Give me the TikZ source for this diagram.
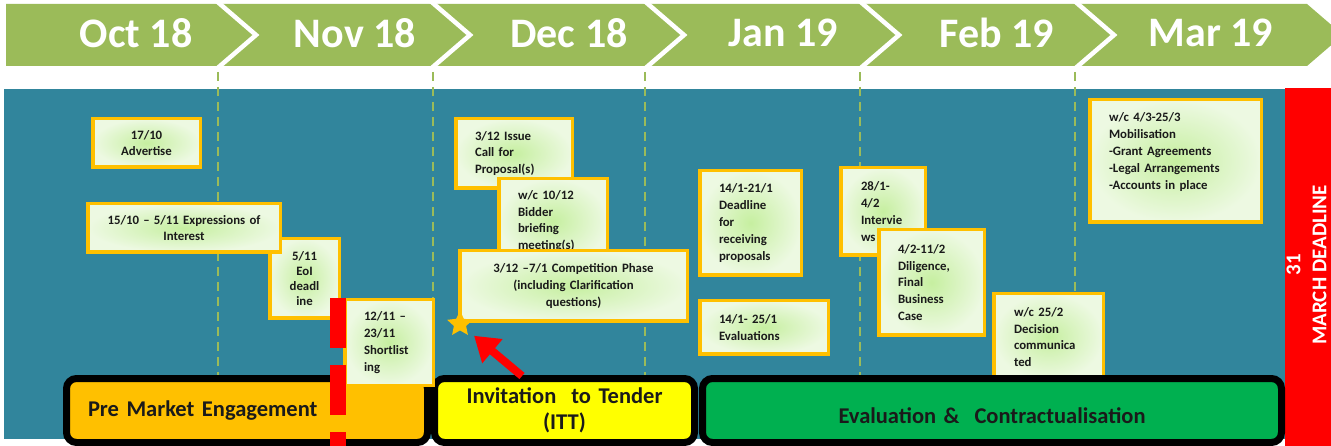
\documentclass[tikz,border=0pt]{standalone}
\usepackage{fontspec}
\setmainfont{Carlito}
\usetikzlibrary{shapes.geometric,arrows.meta}
\definecolor{headgreen}{HTML}{9BBB59}
\definecolor{boardteal}{HTML}{31859C}
\definecolor{taskedge}{HTML}{FFC000}
\definecolor{taskin}{RGB}{198,239,160}
\definecolor{taskout}{RGB}{237,249,226}
\definecolor{inkblack}{HTML}{1A1A1A}
\definecolor{preorange}{HTML}{FFC000}
\definecolor{ittyellow}{HTML}{FFFF00}
\definecolor{evalgreen}{HTML}{00B050}
\definecolor{deadred}{HTML}{FF0000}
\newcommand{\monthfont}{\bfseries\fontsize{42}{48}\selectfont}
\newcommand{\taskfont}{\bfseries\fontsize{12.8}{16.8}\selectfont}
\newcommand{\phasefont}{\bfseries\fontsize{22.5}{26}\selectfont}
\tikzset{
  month/.style = {white, font=\monthfont, inner sep=0pt},
  gridline/.style = {draw=headgreen, line width=1.5pt, dash pattern=on 9pt off 6pt},
  task/.style = {draw=taskedge, line width=3.5pt, inner color=taskin, outer color=taskout, text=inkblack, font=\taskfont, inner sep=2pt, align=#1},
  task/.default = left,
  phase/.style = {draw=black, line width=7pt, rounded corners=10pt, fill=#1, text=inkblack, font=\phasefont, minimum height=64pt, inner sep=2pt},
  cutoff/.style = {draw=deadred, line width=16pt, dash pattern=on 50pt off 17pt},
  pointer/.style = {draw=deadred, fill=deadred, line width=8pt, -{Triangle[length=24pt,width=30pt]}, shorten >=9pt},
  deadtext/.style = {white, font=\bfseries\fontsize{21}{26}\selectfont, rotate=90, align=center, inner sep=0pt}
}

\begin{document}
\begin{tikzpicture}[x=1pt,y=-1pt]
  \useasboundingbox (0,0) rectangle (1331,446);
  % months
  \fill[headgreen] (6,4) -- (1307,4) -- (1343,35) -- (1307,66) -- (6,66) -- cycle;
  \foreach \xs in {217,431,645,860,1075}{
    \draw[white, line width=4.5pt] (\xs-4,-2) -- (\xs+39,35) -- (\xs-4,72);
  }
  \foreach \m/\xi [count=\i] in {Oct 18/136,Nov 18/355,Dec 18/569,Jan 19/783,Feb 19/997,Mar 19/1211}{
    \node[month] (month\i) at (\xi,33) {\m};
  }
  % board
  \fill[boardteal] (4,89) rectangle (1285,439);
  \fill[deadred] (1285,88) rectangle (1331,446);
  \node[deadtext] (deadline) at (1306.5,265) {31\\MARCH DEADLINE};
  \foreach \xs in {218,433,645,860,1075}{
    \draw[gridline] (\xs,72) -- (\xs,380);
  }
  % phases
  \node[phase=preorange, minimum width=361pt, text width=318pt, align=left] (premarket) at (247,410.5) {Pre Market Engagement};
  \node[phase=ittyellow, minimum width=260pt, text width=240pt, align=center] (itt) at (564.5,410.5) {Invitation \ to Tender\\(ITT)};
  % tasks
  \node[task=center, minimum width=107.5pt, minimum height=48.5pt, text width=100pt] (advert) at (146.5,143) {17/10\\Advertise};
  \node[task=center, minimum width=69.5pt, minimum height=79.5pt, text width=60pt, font=\bfseries\fontsize{12.8}{15.2}\selectfont] (eoi) at (304.5,278.5) {5/11\\EoI\\deadl\\ine};
  \node[task=center, minimum width=192.5pt, minimum height=48.5pt, text width=185pt] (interest) at (184,228) {15/10 – 5/11 Expressions of\\Interest};
  \node[task, minimum width=88.5pt, minimum height=85.5pt, text width=50pt] (shortlist) at (389,342.5) {12/11 –\\23/11\\Shortlist\\ing};
  \node[task, minimum width=116.5pt, minimum height=69.5pt, text width=78pt] (issue) at (514,153.5) {3/12 Issue\\Call for\\Proposal(s)};
  \node[task, minimum width=108.5pt, minimum height=84.5pt, text width=70pt] (briefing) at (553,221) {w/c 10/12\\Bidder\\briefing\\meeting(s)};
  \node[task=center, minimum width=227.5pt, minimum height=70.5pt, text width=215pt] (competition) at (573.5,286) {3/12 –7/1 Competition Phase\\(including Clarification\\questions)};
  \node[task, minimum width=101.5pt, minimum height=104.5pt, text width=63pt] (receiving) at (750.5,223) {14/1-21/1\\Deadline\\for\\receiving\\proposals};
  \node[task, minimum width=128.5pt, minimum height=53.5pt, text width=90pt] (evaluations) at (764,327.5) {14/1- 25/1\\Evaluations};
  \node[task, minimum width=84.5pt, minimum height=87.5pt, text width=44pt] (interviews) at (883,211.5) {28/1-\\4/2\\Intervie\\ws};
  \node[task, minimum width=105.5pt, minimum height=105.5pt, text width=67pt] (diligence) at (931.5,282.5) {4/2-11/2\\Diligence,\\Final\\Business\\Case};
  \node[task, minimum width=109.5pt, minimum height=86.5pt, text width=69pt] (decision) at (1048.5,337) {w/c 25/2\\Decision\\communica\\ted};
  \node[task, minimum width=171.5pt, minimum height=122.5pt, text width=133pt] (mobilise) at (1175.5,161) {w/c 4/3-25/3\\Mobilisation\\-Grant Agreements\\-Legal Arrangements\\-Accounts in place\\[3pt]\mbox{}};
  \node[phase=evalgreen, minimum width=579pt, text width=560pt, align=center] (evaluation) at (992,410.5) {\mbox{}\\Evaluation \& \ Contractualisation};
  % start marker
  \draw[cutoff] (338,298) -- (338,446);
  \node[star, star points=5, star point ratio=2.1, fill=taskedge, minimum size=27pt, inner sep=0pt] (kickoff) at (460,324) {};
  \coordinate (arrowtail) at (522,376);
  \draw[pointer] (arrowtail) -- (kickoff);
\end{tikzpicture}
\end{document}
